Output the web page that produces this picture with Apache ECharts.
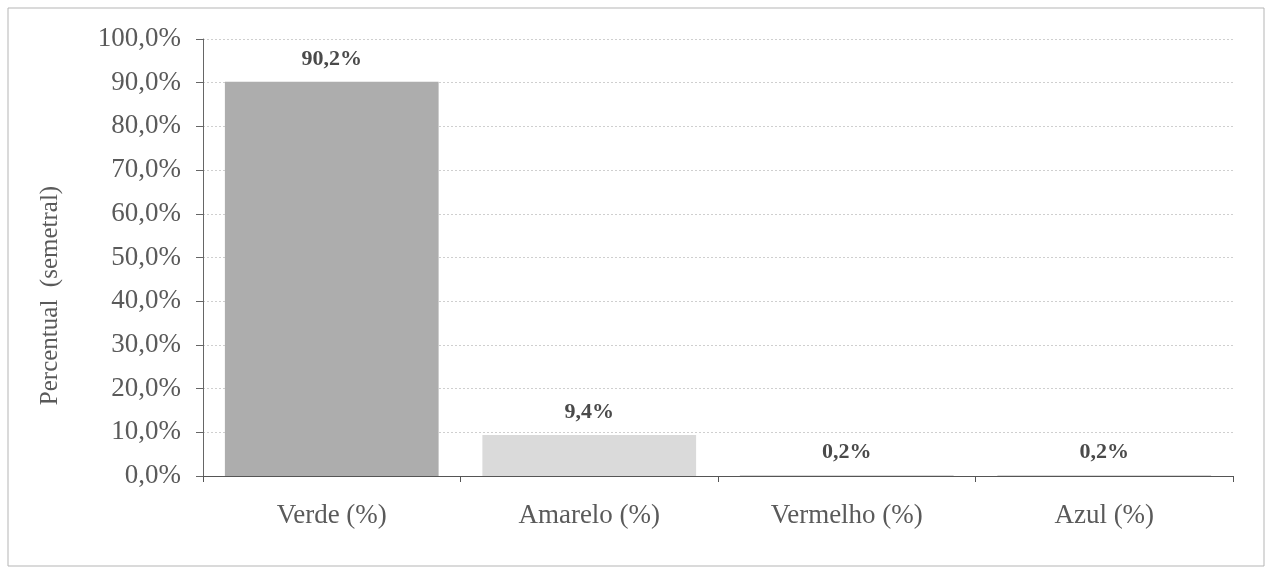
<!DOCTYPE html>
<html>
<head>
<meta charset="utf-8">
<script src="https://cdn.jsdelivr.net/npm/echarts@6/dist/echarts.min.js"></script>
<style>
  html, body { margin: 0; padding: 0; background: #fff; }
  #chart { width: 1265px; height: 570px; }
</style>
</head>
<body>
<div id="chart"></div>
<script>
// categorias e valores (percentual semestral)
let categories = ['Verde (%)', 'Amarelo (%)', 'Vermelho (%)', 'Azul (%)'];
let values = [90.2, 9.4, 0.2, 0.2];
let barColors = ['#adadad', '#dadada', '#c8c8c8', '#c8c8c8'];

function pct(v, digits) {
    return v.toFixed(digits).replace('.', ',') + '%';
}

let chart = echarts.init(document.getElementById('chart'));

let option = {
    animation: false,
    backgroundColor: '#fff',
    textStyle: { fontFamily: 'Liberation Serif' },
    graphic: [{
        type: 'rect',
        shape: { x: 8, y: 8, width: 1256, height: 558 },
        style: { fill: 'none', stroke: '#b5b5b5', lineWidth: 1 },
        silent: true
    }],
    grid: {
        left: 203,
        right: 32,
        top: 39,
        bottom: 94
    },
    xAxis: {
        type: 'category',
        data: categories,
        axisLine: { lineStyle: { color: '#555', width: 1 } },
        axisTick: { show: true, alignWithLabel: false, length: 6, lineStyle: { color: '#555' } },
        axisLabel: {
            color: '#5a5a5a',
            fontSize: 27,
            fontFamily: 'Liberation Serif',
            margin: 26
        }
    },
    yAxis: {
        type: 'value',
        min: 0,
        max: 100,
        interval: 10,
        name: 'Percentual  (semetral)',
        nameLocation: 'middle',
        nameGap: 140,
        nameTextStyle: {
            color: '#5a5a5a',
            fontSize: 25,
            fontFamily: 'Liberation Serif',
            padding: [0, 76, 0, 0]
        },
        axisLine: { show: true, lineStyle: { color: '#666' } },
        axisTick: { show: true, length: 7, lineStyle: { color: '#666' } },
        axisLabel: {
            color: '#5a5a5a',
            fontSize: 27,
            fontFamily: 'Liberation Serif',
            margin: 22,
            formatter: function (v) { return pct(v, 1); }
        },
        splitLine: {
            show: true,
            lineStyle: { color: '#cfcfcf', type: [2, 2], width: 1 }
        }
    },
    series: [{
        type: 'bar',
        barWidth: '83%',
        data: values.map(function (v, i) {
            return { value: v, itemStyle: { color: barColors[i] } };
        }),
        label: {
            show: true,
            position: 'top',
            distance: 12,
            color: '#4a4a4a',
            fontSize: 22,
            fontWeight: 'bold',
            fontFamily: 'Liberation Serif',
            formatter: function (p) { return pct(p.value, 1); }
        }
    }]
};

chart.setOption(option);
</script>
</body>
</html>
